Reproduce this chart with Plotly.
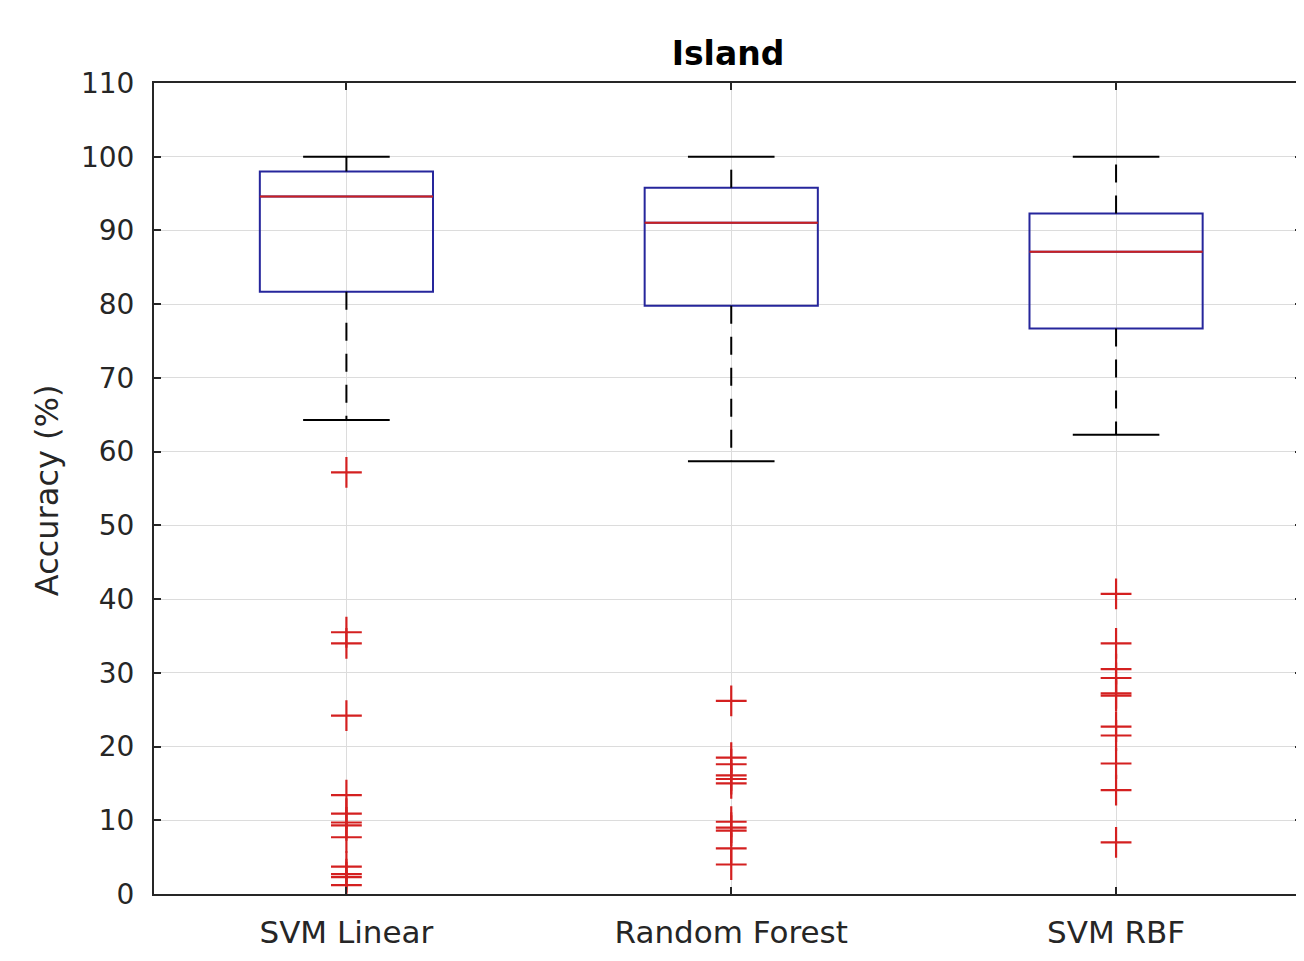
import plotly.graph_objects as go

# ---- data ----
categories = ["SVM Linear", "Random Forest", "SVM RBF"]
q1_vals = [81.7, 79.8, 76.7]
median_vals = [94.6, 91.05, 87.1]
q3_vals = [98.0, 95.8, 92.3]
upper_whisker = [100.0, 100.0, 100.0]
lower_whisker = [64.3, 58.7, 62.3]
outliers_svm_linear = [57.2, 35.5, 34.0, 24.2, 13.4, 10.9, 9.7, 9.3, 7.7, 3.7, 2.7, 2.3, 1.2]
outliers_random_forest = [26.2, 18.5, 17.6, 16.1, 15.6, 15.0, 9.8, 9.0, 8.6, 6.2, 4.0]
outliers_svm_rbf = [40.7, 34.0, 30.5, 29.3, 27.2, 26.9, 22.7, 21.5, 17.7, 14.1, 7.0]
outliers = [outliers_svm_linear, outliers_random_forest, outliers_svm_rbf]
y_ticks = list(range(0, 111, 10))

# ---- style ----
BOX_W = 0.45
CAP_W = 0.225
BOX_COLOR = "#26269c"
MED_COLOR = "#cc2020"
OUT_COLOR = "#d42020"
AX_COLOR = "#262626"
GRID = "#dcdcdc"
FONT = "DejaVu Sans, Liberation Sans, Arial, sans-serif"

# page body has an 8px margin; compensate so the plot lands where the reference has it
OFF = 8
W, H = 1304 - OFF, 961 - 2 * OFF
L, T, B = 154 - OFF, 83 - OFF, (H + OFF) - 894

fig = go.Figure()
positions = [1, 2, 3]

for i, pos in enumerate(positions):
    fig.add_trace(go.Box(
        x=[pos], q1=[q1_vals[i]], median=[median_vals[i]], q3=[q3_vals[i]],
        lowerfence=[q1_vals[i]], upperfence=[q3_vals[i]],
        width=BOX_W, whiskerwidth=0,
        line=dict(color=BOX_COLOR, width=2),
        fillcolor="rgba(0,0,0,0)", showlegend=False, hoverinfo="skip",
    ))
    fig.add_trace(go.Scatter(
        x=[pos, pos, None, pos, pos],
        y=[q3_vals[i], upper_whisker[i], None, q1_vals[i], lower_whisker[i]],
        mode="lines", line=dict(color="black", width=2, dash="18px,13px"),
        showlegend=False, hoverinfo="skip",
    ))
    fig.add_trace(go.Scatter(
        x=[pos - CAP_W / 2, pos + CAP_W / 2, None, pos - CAP_W / 2, pos + CAP_W / 2],
        y=[upper_whisker[i], upper_whisker[i], None, lower_whisker[i], lower_whisker[i]],
        mode="lines", line=dict(color="black", width=2),
        showlegend=False, hoverinfo="skip",
    ))
    fig.add_trace(go.Scatter(
        x=[pos - BOX_W / 2, pos + BOX_W / 2],
        y=[median_vals[i], median_vals[i]],
        mode="lines", line=dict(color=MED_COLOR, width=2),
        showlegend=False, hoverinfo="skip",
    ))
    fig.add_trace(go.Scatter(
        x=[pos] * len(outliers[i]), y=outliers[i], mode="markers",
        marker=dict(symbol="cross-thin", size=22,
                    line=dict(color=OUT_COLOR, width=2.2), color=OUT_COLOR),
        showlegend=False, hoverinfo="skip",
    ))

fig.update_layout(
    width=W, height=H,
    margin=dict(l=L, r=0, t=T, b=B),
    plot_bgcolor="white", paper_bgcolor="white",
    font=dict(family=FONT, color=AX_COLOR),
    title=dict(text="<b>Island</b>", x=0.5, xref="paper", xanchor="center",
               y=1 - (53 - OFF) / H, yref="container", yanchor="middle",
               font=dict(size=33, color="black", family=FONT)),
    showlegend=False,
)

fig.update_xaxes(
    range=[0.5, 0.5 + (1304 - 154) / 385.5],
    tickmode="array", tickvals=positions, ticktext=categories,
    tickfont=dict(size=31, color=AX_COLOR),
    ticks="inside", ticklen=7, tickwidth=1.5, tickcolor=AX_COLOR,
    showline=True, linecolor=AX_COLOR, linewidth=2, mirror="ticks",
    showgrid=True, gridcolor=GRID, gridwidth=1, zeroline=False,
    ticklabelstandoff=10,
)
fig.update_yaxes(
    range=[0, 110], tickmode="array", tickvals=y_ticks,
    tickfont=dict(size=28, color=AX_COLOR),
    ticks="inside", ticklen=7, tickwidth=1.5, tickcolor=AX_COLOR,
    showline=True, linecolor=AX_COLOR, linewidth=2, mirror="ticks",
    showgrid=True, gridcolor=GRID, gridwidth=1, zeroline=False,
    ticklabelstandoff=12,
)

plot_w = W - L
plot_h = H - T - B
fig.add_annotation(
    text="Accuracy (%)", textangle=-90, showarrow=False,
    xref="paper", yref="paper", x=(47 - 154) / plot_w, y=(894 - 490) / plot_h,
    xanchor="center", yanchor="middle",
    font=dict(size=32, color=AX_COLOR, family=FONT),
)

fig.write_html("out.html")
